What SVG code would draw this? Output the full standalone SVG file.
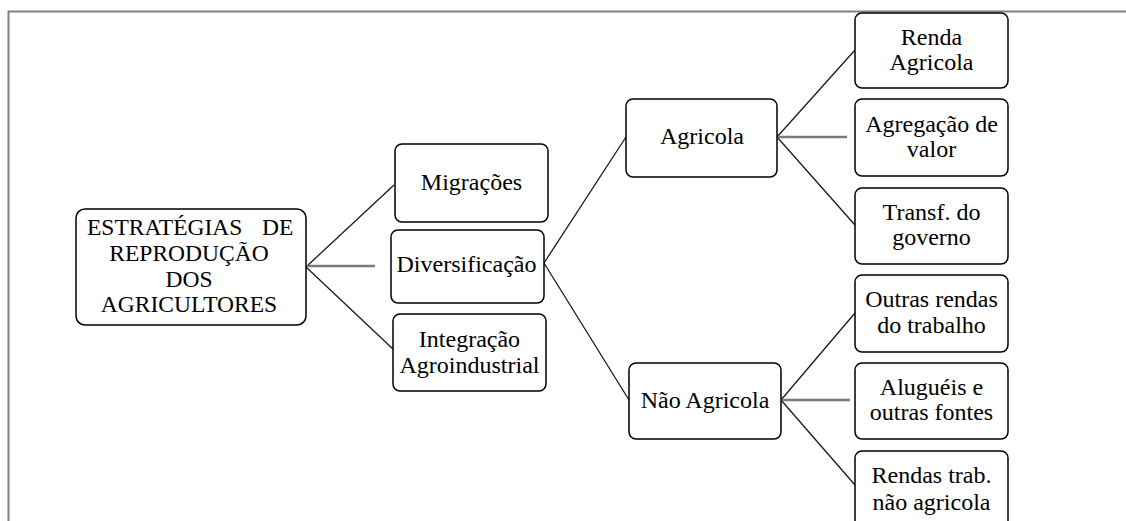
<svg xmlns="http://www.w3.org/2000/svg" width="1126" height="521" viewBox="0 0 1126 521" font-family="Liberation Serif, Times New Roman, serif">
<style>
.box{fill:#fff;stroke:#000;stroke-width:1.5}
.c{stroke:#1a1a1a;stroke-width:1.3;fill:none}
.g{stroke:#7a7a7a;stroke-width:2.5;fill:none}
</style>
<rect width="1126" height="521" fill="#fff"/>
<path d="M8.5,521 V11.5 H1126" fill="none" stroke="#808080" stroke-width="2"/>
<g id="connectors">
<path class="c" d="M306,267 L394,185 M306,267 L394,350"/>
<path class="g" d="M306,266 L375,266"/>
<path class="c" d="M544,263 L626,137 M544,263 L629,400"/>
<path class="c" d="M777,137 L855,50 M777,137 L855,225"/>
<path class="g" d="M777,137 L847,137"/>
<path class="c" d="M781,400 L855,313 M781,400 L855,485"/>
<path class="g" d="M781,400 L850,400"/>
</g>
<g font-family="Liberation Serif, Times New Roman, serif" font-size="24" fill="#000" text-anchor="middle">
<g id="root">
<rect class="box" x="76" y="209" width="230" height="116" rx="9"/>
<text font-size="23.5" text-anchor="start"><tspan x="87" y="235">ESTRATÉGIAS</tspan><tspan x="262" y="235">DE</tspan></text>
<text font-size="23.5"><tspan x="189" y="261">REPRODUÇÃO</tspan><tspan x="189" y="287">DOS</tspan><tspan x="189" y="312">AGRICULTORES</tspan></text>
</g>
<g id="migracoes">
<rect class="box" x="395" y="144" width="153" height="78" rx="7"/>
<text x="471.5" y="190">Migrações</text>
</g>
<g id="diversificacao">
<rect class="box" x="391" y="230" width="153" height="73" rx="7"/>
<text x="466.5" y="272">Diversificação</text>
</g>
<g id="integracao">
<rect class="box" x="393" y="314" width="153" height="77" rx="7"/>
<text><tspan x="469.5" y="347">Integração</tspan><tspan x="469.5" y="373">Agroindustrial</tspan></text>
</g>
<g id="agricola">
<rect class="box" x="626" y="99" width="151" height="78" rx="7"/>
<text x="702" y="144">Agricola</text>
</g>
<g id="nao-agricola">
<rect class="box" x="629" y="363" width="152" height="76" rx="7"/>
<text x="705" y="408">Não Agricola</text>
</g>
<g id="renda-agricola">
<rect class="box" x="855" y="13" width="153" height="75" rx="7"/>
<text><tspan x="931.5" y="45">Renda</tspan><tspan x="931.5" y="70">Agricola</tspan></text>
</g>
<g id="agregacao">
<rect class="box" x="855" y="99" width="153" height="77" rx="7"/>
<text><tspan x="931.5" y="132">Agregação de</tspan><tspan x="931.5" y="157">valor</tspan></text>
</g>
<g id="transf">
<rect class="box" x="855" y="188" width="153" height="76" rx="7"/>
<text><tspan x="931.5" y="220">Transf. do</tspan><tspan x="931.5" y="245">governo</tspan></text>
</g>
<g id="outras-rendas">
<rect class="box" x="855" y="275" width="153" height="77" rx="7"/>
<text><tspan x="931.5" y="307">Outras rendas</tspan><tspan x="931.5" y="333">do trabalho</tspan></text>
</g>
<g id="alugueis">
<rect class="box" x="855" y="363" width="153" height="76" rx="7"/>
<text><tspan x="931.5" y="395">Aluguéis e</tspan><tspan x="931.5" y="420">outras fontes</tspan></text>
</g>
<g id="rendas-trab">
<rect class="box" x="855" y="451" width="153" height="90" rx="7"/>
<text><tspan x="931.5" y="483">Rendas trab.</tspan><tspan x="931.5" y="510">não agricola</tspan></text>
</g>
</g>
</svg>
